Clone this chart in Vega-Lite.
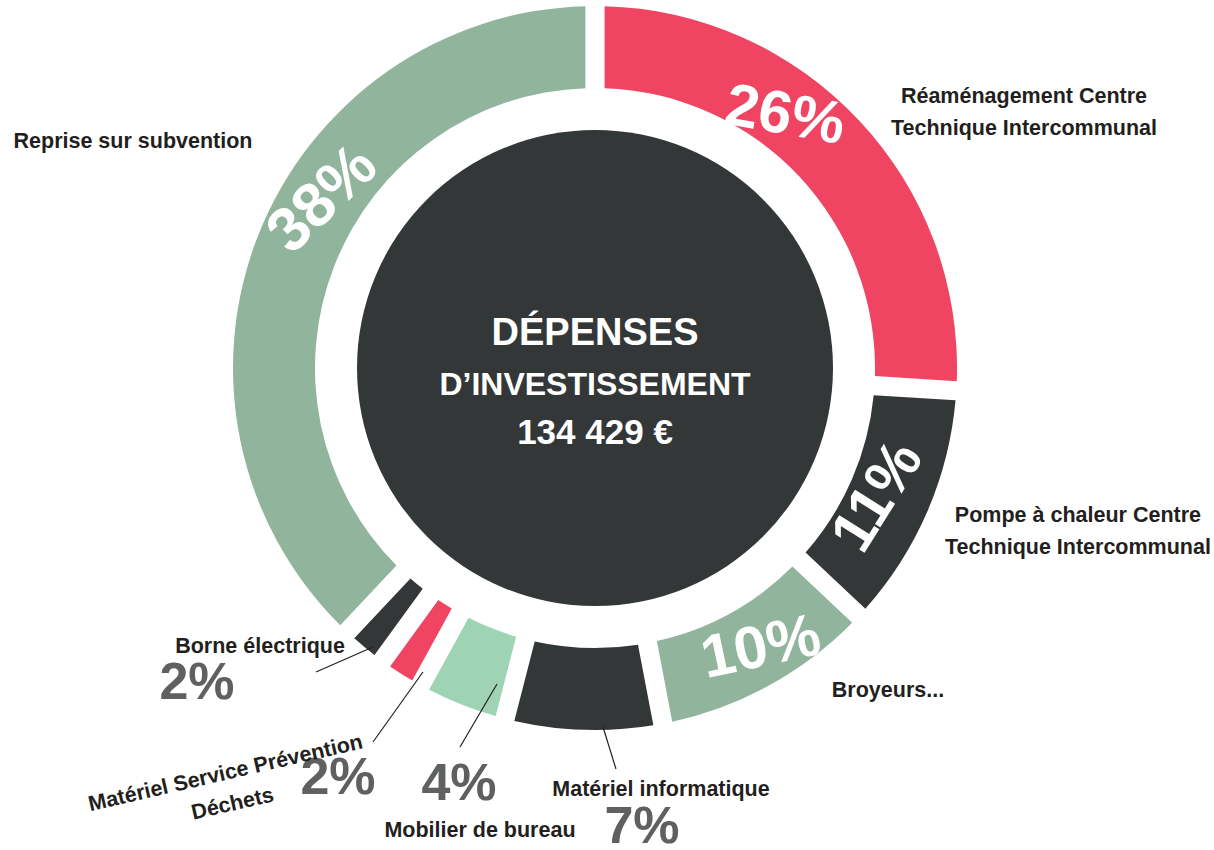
{
  "$schema": "https://vega.github.io/schema/vega-lite/v6.json",
  "width": 1190,
  "height": 736,
  "autosize": {"type": "none"},
  "padding": {"left": 0, "top": 0, "right": 24, "bottom": 114},
  "background": "white",
  "config": {"view": {"stroke": null}, "text": {"font": "Liberation Sans", "fontWeight": "bold"}},
  "datasets": {
    "depenses": [
      {"ord": 1, "cat": "Réaménagement Centre Technique Intercommunal", "label": "Réaménagement Centre\nTechnique Intercommunal", "share": 0.26},
      {"ord": 2, "cat": "Pompe à chaleur Centre Technique Intercommunal", "label": "Pompe à chaleur Centre\nTechnique Intercommunal", "share": 0.11},
      {"ord": 3, "cat": "Broyeurs...", "label": "Broyeurs...", "share": 0.10},
      {"ord": 4, "cat": "Matériel informatique", "label": "Matériel informatique", "share": 0.07},
      {"ord": 5, "cat": "Mobilier de bureau", "label": "Mobilier de bureau", "share": 0.04},
      {"ord": 6, "cat": "Matériel Service Prévention Déchets", "label": "Matériel Service Prévention\nDéchets", "share": 0.02},
      {"ord": 7, "cat": "Borne électrique", "label": "Borne électrique", "share": 0.02},
      {"ord": 8, "cat": "Reprise sur subvention", "label": "Reprise sur subvention", "share": 0.38}
    ],
    "centre": [{"titre1": "DÉPENSES", "titre2": "D’INVESTISSEMENT", "total": "134 429 €"}],
    "reperes": [
      {"cat": "Borne électrique", "x": 373, "y": 647, "x2": 316, "y2": 672},
      {"cat": "Matériel Service Prévention Déchets", "x": 423, "y": 672, "x2": 373, "y2": 742},
      {"cat": "Mobilier de bureau", "x": 497, "y": 684, "x2": 460, "y2": 747},
      {"cat": "Matériel informatique", "x": 603, "y": 727, "x2": 616, "y2": 769}
    ]
  },
  "layer": [
    {"data": {"name": "centre"}, "mark": {"type": "arc", "theta": 0, "theta2": 6.2832, "innerRadius": 0, "outerRadius": 238, "fill": "#343738"}, "encoding": {}},
    {"data": {"name": "centre"}, "mark": {"type": "text", "fontSize": 38, "fill": "white", "dy": -34.4}, "encoding": {"text": {"field": "titre1"}}},
    {"data": {"name": "centre"}, "mark": {"type": "text", "fontSize": 32, "fill": "white", "dy": 17.4}, "encoding": {"text": {"field": "titre2"}}},
    {"data": {"name": "centre"}, "mark": {"type": "text", "fontSize": 35, "fill": "white", "dy": 64.5}, "encoding": {"text": {"field": "total"}}},
    {
      "data": {"name": "depenses"},
      "encoding": {
        "theta": {"field": "share", "type": "quantitative", "stack": true},
        "order": {"field": "ord", "type": "quantitative"}
      },
      "layer": [
        {
          "mark": {"type": "arc", "innerRadius": 280, "outerRadius": 362, "padAngle": 0.042},
          "encoding": {
            "color": {
              "field": "cat", "type": "nominal", "legend": null,
              "scale": {
                "domain": ["Réaménagement Centre Technique Intercommunal", "Pompe à chaleur Centre Technique Intercommunal", "Broyeurs...", "Matériel informatique", "Mobilier de bureau", "Matériel Service Prévention Déchets", "Borne électrique", "Reprise sur subvention"],
                "range": ["#F04562", "#343738", "#91B59C", "#343738", "#9ED4B3", "#F04562", "#343738", "#91B59C"]
              }
            }
          }
        },
        {"mark": {"type": "text", "radius": 310, "angle": 10, "dx": -42.4, "dy": -32.9, "fontSize": 60, "fill": "white"},
         "encoding": {"text": {"condition": {"test": "datum.ord === 1", "field": "share", "type": "quantitative", "format": ".0%"}, "value": ""}}},
        {"mark": {"type": "text", "radius": 310, "angle": 302, "dx": -5.7, "dy": 1.9, "fontSize": 60, "fill": "white"},
         "encoding": {"text": {"condition": {"test": "datum.ord === 2", "field": "share", "type": "quantitative", "format": ".0%"}, "value": ""}}},
        {"mark": {"type": "text", "radius": 320, "angle": 348, "dx": 11.6, "dy": 2.1, "fontSize": 60, "fill": "white"},
         "encoding": {"text": {"condition": {"test": "datum.ord === 3", "field": "share", "type": "quantitative", "format": ".0%"}, "value": ""}}},
        {"mark": {"type": "text", "radius": 322, "angle": 316, "dx": 54.3, "dy": -17.3, "fontSize": 62, "fill": "white"},
         "encoding": {"text": {"condition": {"test": "datum.ord === 8", "field": "share", "type": "quantitative", "format": ".0%"}, "value": ""}}},
        {"mark": {"type": "text", "radius": 420, "dx": 60.2, "dy": 39.2, "fontSize": 52, "fill": "#5E6061"},
         "encoding": {"text": {"condition": {"test": "datum.ord === 4", "field": "share", "type": "quantitative", "format": ".0%"}, "value": ""}}},
        {"mark": {"type": "text", "radius": 460, "dx": 33.3, "dy": -11.7, "fontSize": 52, "fill": "#5E6061"},
         "encoding": {"text": {"condition": {"test": "datum.ord === 5", "field": "share", "type": "quantitative", "format": ".0%"}, "value": ""}}},
        {"mark": {"type": "text", "radius": 480, "dx": 0.2, "dy": 4.7, "fontSize": 52, "fill": "#5E6061"},
         "encoding": {"text": {"condition": {"test": "datum.ord === 6", "field": "share", "type": "quantitative", "format": ".0%"}, "value": ""}}},
        {"mark": {"type": "text", "radius": 400, "dx": -143, "dy": 6.8, "fontSize": 52, "fill": "#5E6061"},
         "encoding": {"text": {"condition": {"test": "datum.ord === 7", "field": "share", "type": "quantitative", "format": ".0%"}, "value": ""}}},
        {"mark": {"type": "text", "radius": 430, "dx": 115.5, "dy": 23.5, "fontSize": 21.5, "fill": "#231F20", "lineBreak": "\n", "lineHeight": 31.5},
         "encoding": {"text": {"condition": {"test": "datum.ord === 1", "field": "label"}, "value": ""}}},
        {"mark": {"type": "text", "radius": 430, "dx": 88.3, "dy": -22.7, "fontSize": 21.5, "fill": "#231F20", "lineBreak": "\n", "lineHeight": 31.5},
         "encoding": {"text": {"condition": {"test": "datum.ord === 2", "field": "label"}, "value": ""}}},
        {"mark": {"type": "text", "radius": 400, "dx": 100.3, "dy": -27.1, "fontSize": 21.5, "fill": "#231F20"},
         "encoding": {"text": {"condition": {"test": "datum.ord === 3", "field": "label"}, "value": ""}}},
        {"mark": {"type": "text", "radius": 420, "dx": 79.2, "dy": 2.6, "fontSize": 21.5, "fill": "#231F20"},
         "encoding": {"text": {"condition": {"test": "datum.ord === 4", "field": "label"}, "value": ""}}},
        {"mark": {"type": "text", "radius": 460, "dx": 54.3, "dy": 35.7, "fontSize": 21.5, "fill": "#231F20"},
         "encoding": {"text": {"condition": {"test": "datum.ord === 5", "field": "label"}, "value": ""}}},
        {"mark": {"type": "text", "radius": 480, "angle": 347, "dx": -109.4, "dy": -24.7, "fontSize": 21.5, "fill": "#231F20", "lineBreak": "\n", "lineHeight": 31.5},
         "encoding": {"text": {"condition": {"test": "datum.ord === 6", "field": "label"}, "value": ""}}},
        {"mark": {"type": "text", "radius": 400, "dx": -80, "dy": -28.8, "fontSize": 21.5, "fill": "#231F20"},
         "encoding": {"text": {"condition": {"test": "datum.ord === 7", "field": "label"}, "value": ""}}},
        {"mark": {"type": "text", "radius": 430, "dx": -62.2, "dy": -67.3, "fontSize": 21.5, "fill": "#231F20"},
         "encoding": {"text": {"condition": {"test": "datum.ord === 8", "field": "label"}, "value": ""}}}
      ]
    },
    {
      "data": {"name": "reperes"},
      "mark": {"type": "rule", "stroke": "#231F20", "strokeWidth": 1.2},
      "encoding": {
        "x": {"field": "x", "type": "quantitative", "scale": {"domain": [0, 1190], "nice": false, "zero": false}, "axis": null},
        "y": {"field": "y", "type": "quantitative", "scale": {"domain": [0, 736], "nice": false, "zero": false, "reverse": true}, "axis": null},
        "x2": {"field": "x2"},
        "y2": {"field": "y2"}
      }
    }
  ]
}
